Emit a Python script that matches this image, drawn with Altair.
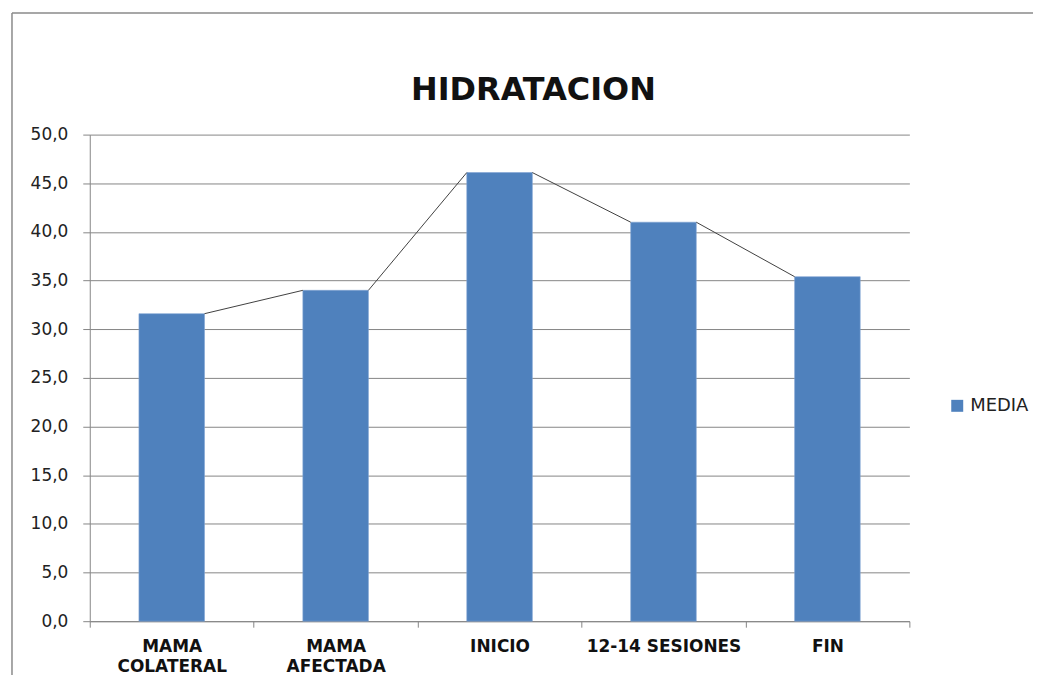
import altair as alt
import pandas as pd

categories = ["MAMA COLATERAL", "MAMA AFECTADA", "INICIO", "12-14 SESIONES", "FIN"]
values = [31.6, 34.0, 46.1, 41.0, 35.4]
series_name = "MEDIA"
y_ticks = [0, 5, 10, 15, 20, 25, 30, 35, 40, 45, 50]

n = len(categories)
BAR_HALF = 0.2  # bar half-width as a fraction of the category slot

bars_df = pd.DataFrame({"i": list(range(n)), "cat": categories, "v": values, "series": series_name})
seg_df = pd.DataFrame({
    "i": list(range(n - 1)),
    "v": values[:-1],
    "v_next": values[1:],
})

GRID = "#868686"
BLUE = "#4F81BD"
W, H = 822, 488

cat_array = "[" + ",".join("'" + c + "'" for c in categories) + "]"
label_expr = (
    "datum.value % 1 == 0 ? '' : "
    "(indexof(" + cat_array + "[floor(datum.value)], ' ') > 0 && " + cat_array + "[floor(datum.value)] != '12-14 SESIONES' "
    "? split(" + cat_array + "[floor(datum.value)], ' ') : " + cat_array + "[floor(datum.value)])"
)
x_values = [k * 0.5 for k in range(2 * n + 1)]

xscale = alt.Scale(domain=[0, n], nice=False, zero=False, padding=0)
yscale = alt.Scale(domain=[0, 50], nice=False, padding=0)

x_axis = alt.Axis(
    values=x_values, labelExpr=label_expr, labelAngle=0, labelOverlap=False, labelFlush=False,
    labelFont="DejaVu Sans", labelFontWeight="bold", labelFontSize=17, labelColor="#111",
    labelLineHeight=20, labelPadding=11, tickSize=6, tickColor=GRID, domainColor=GRID,
    tickOpacity={"condition": {"test": "datum.value % 1 != 0", "value": 0}, "value": 1},
    grid=False, title=None,
)

bars = alt.Chart(bars_df).transform_calculate(
    x0=f"datum.i + 0.5 - {BAR_HALF}", x1=f"datum.i + 0.5 + {BAR_HALF}"
).mark_bar(stroke="#7fa3d3", strokeWidth=0.6).encode(
    x=alt.X("x0:Q", scale=xscale, axis=x_axis),
    x2="x1:Q",
    y=alt.Y("v:Q", scale=yscale, title=None,
            axis=alt.Axis(values=y_ticks, labelExpr="replace(format(datum.value, '.1f'), '.', ',')",
                          labelFont="DejaVu Sans", labelFontSize=17, labelColor="#222",
                          labelPadding=15, tickSize=7, tickColor=GRID, domainColor=GRID,
                          gridColor=GRID, gridWidth=1)),
    y2=alt.Y2(datum=0),
    color=alt.Color("series:N", scale=alt.Scale(range=[BLUE]), title=None,
                    legend=alt.Legend(orient="none", legendX=861, legendY=263,
                                      symbolType="square", symbolSize=144,
                                      symbolStrokeWidth=0, labelFont="DejaVu Sans",
                                      labelFontSize=18, labelColor="#222", padding=0)),
)

lines = alt.Chart(seg_df).transform_calculate(
    xa=f"datum.i + 0.5 + {BAR_HALF}", xb=f"datum.i + 1.5 - {BAR_HALF}"
).mark_rule(color="#404040", strokeWidth=1).encode(
    x=alt.X("xa:Q", scale=xscale),
    x2="xb:Q",
    y=alt.Y("v:Q", scale=yscale),
    y2="v_next:Q",
)

one = alt.Data(values=[{}])
frame_left = alt.Chart(one).mark_rule(color="#8a8a8a", strokeWidth=1.5).encode(
    x=alt.value(-78), y=alt.value(-122), y2=alt.value(542))
frame_top = alt.Chart(one).mark_rule(color="#8a8a8a", strokeWidth=1.5).encode(
    x=alt.value(-78), x2=alt.value(946), y=alt.value(-122))

chart = alt.layer(bars, lines, frame_left, frame_top).properties(
    width=W, height=H,
    padding={"left": 3, "top": 3, "right": 3, "bottom": 3},
    title=alt.TitleParams("HIDRATACION", font="DejaVu Sans", fontSize=32, fontWeight="bold",
                          color="#111", anchor="middle", frame="group", dx=34, dy=95, offset=0),
).configure_view(stroke=None)

chart.save("out.html", embed_options={"renderer": "svg", "actions": False})
